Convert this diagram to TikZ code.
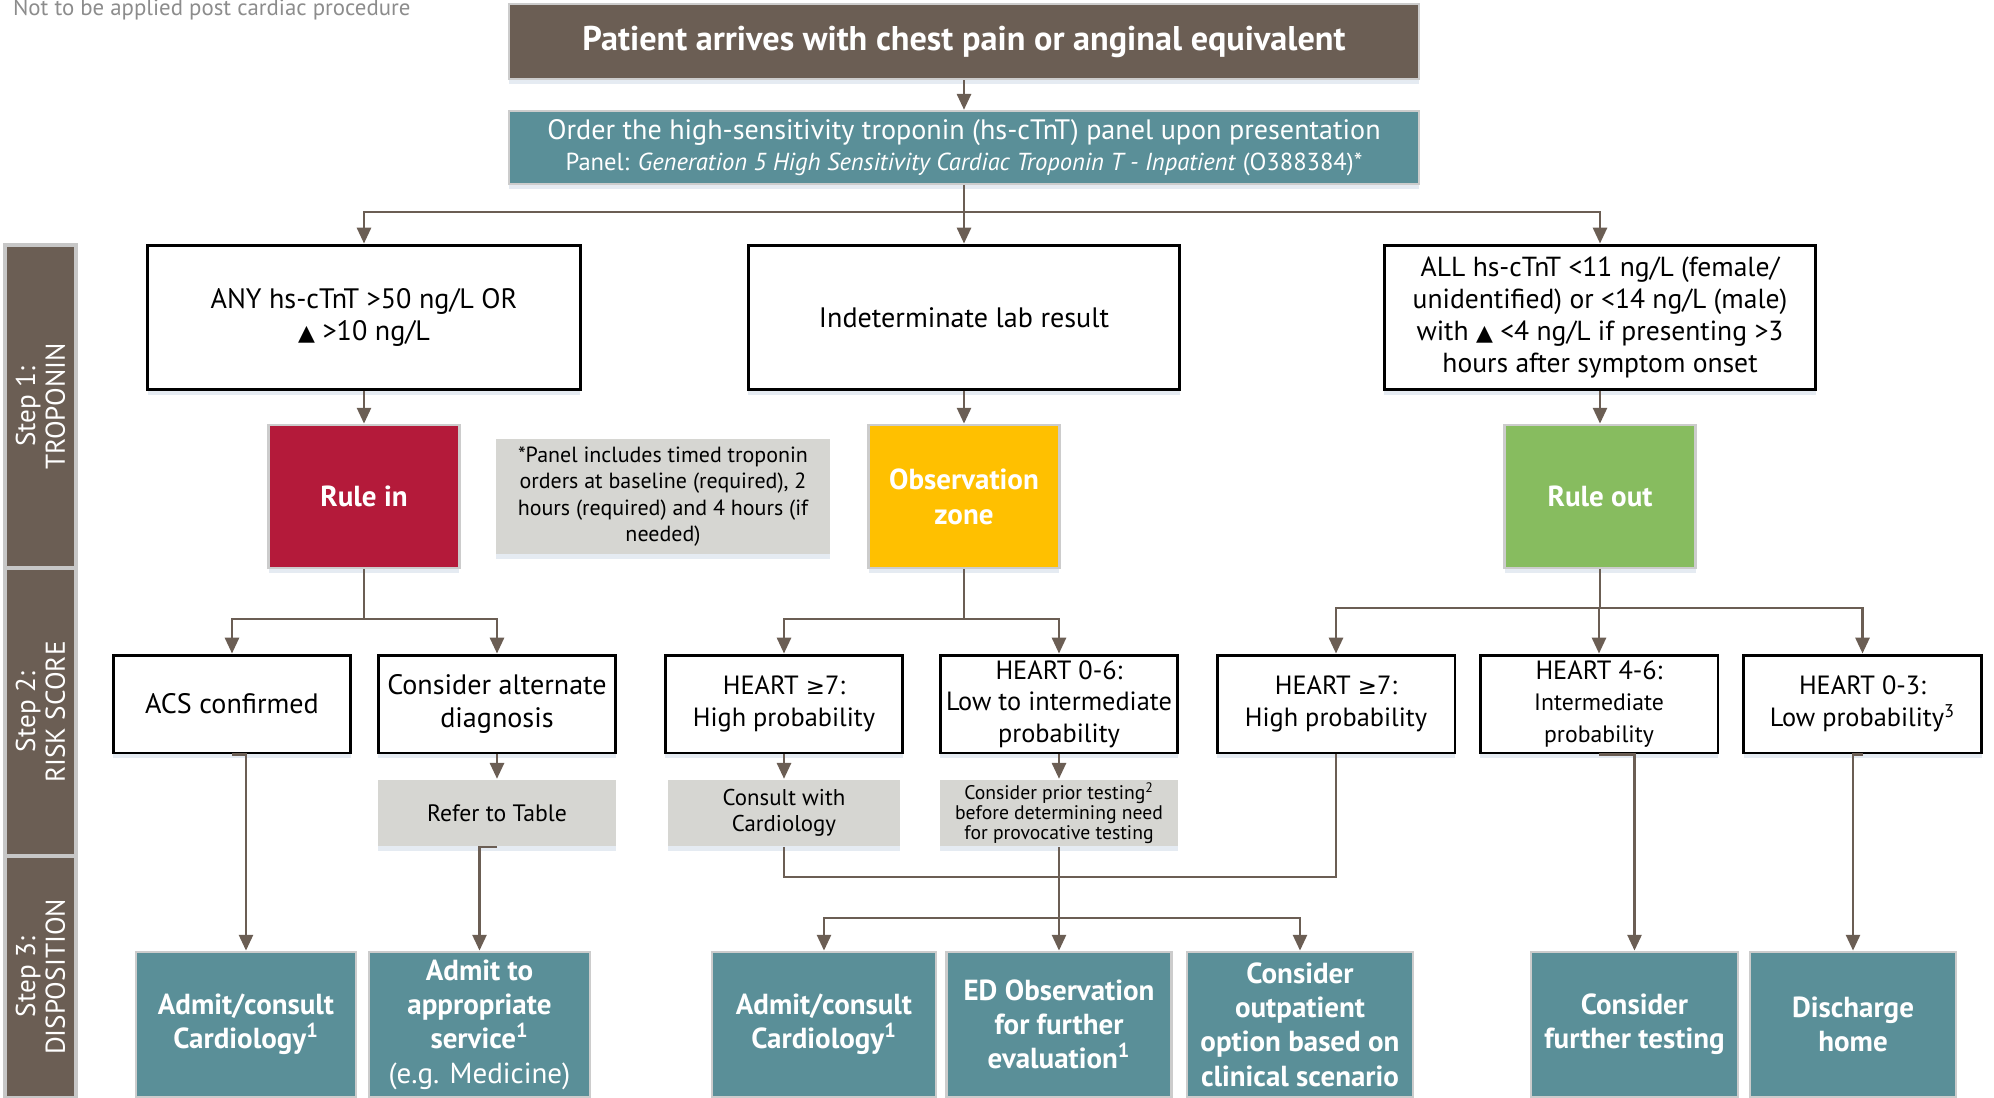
\documentclass[tikz,border=0pt]{standalone}
\usepackage{fontspec}
\setmainfont{PT Sans}
\newfontfamily\dejavu{DejaVu Sans}
\usetikzlibrary{arrows.meta}
\usetikzlibrary{shadows}
\definecolor{cbrown}{HTML}{6B5E54}
\definecolor{cteal}{HTML}{5A8F98}
\definecolor{cred}{HTML}{B41A3A}
\definecolor{cyellow}{HTML}{FFC000}
\definecolor{cgreen}{HTML}{87BC5F}
\definecolor{cgray}{HTML}{D6D6D2}
\definecolor{cshadow}{HTML}{D3DDEA}
\tikzset{every picture/.style={line width=1.4pt},
arr/.style={draw=cbrown,-{Triangle[width=8pt,length=9pt]}},
conn/.style={draw=cbrown},
shad/.style={drop shadow={shadow xshift=0pt,shadow yshift=-3pt,opacity=0.6,fill=cshadow}},
whitebox/.style={draw=black,line width=1.7pt,fill=white,shad,align=center,inner sep=1pt,minimum height=1.96cm,font=\fontsize{15}{18}\selectfont},
colbox/.style={draw=black!20,line width=1.6pt,shad,align=center,text=white,minimum width=3.82cm,minimum height=2.86cm,font=\fontsize{16.5}{20}\selectfont\bfseries},
notebox/.style={fill=cgray,shad,align=center,inner sep=1pt,minimum width=4.76cm,minimum height=1.32cm,font=\fontsize{13}{15}\selectfont},
endbox/.style={fill=cteal,draw=black!20,line width=1.6pt,shad,align=center,text=white,minimum height=2.9cm,inner sep=1pt,font=\fontsize{16.5}{19.5}\selectfont\bfseries},
stepbox/.style={fill=cbrown,draw=black!22,line width=2pt,minimum width=1.42cm,text=white,align=center},
steplabel/.style={text=white,rotate=90,align=center,font=\fontsize{15.5}{17}\selectfont}}
\newcommand{\tri}{{\dejavu\fontsize{12.5}{12}\selectfont ▲}}
\newcommand{\gte}{{\dejavu\fontsize{13}{13}\selectfont ≥}}

\begin{document}
\begin{tikzpicture}[x=0.02cm,y=-0.02cm]
\useasboundingbox (0,0) rectangle (1994,1098);
\node[anchor=base west,text=black!45,font=\fontsize{13}{13}\selectfont] (hdr) at (6,16) {Not to be applied post cardiac procedure};
% steps
\node[stepbox,minimum height=6.46cm] (s1) at (40.5,406.5) {};
\node[stepbox,minimum height=5.76cm] (s2) at (40.5,712) {};
\node[stepbox,minimum height=4.84cm] (s3) at (40.5,977) {};
\node[steplabel] at (s1) {Step 1:\\TROPONIN};
\node[steplabel] at (s2) {Step 2:\\RISK SCORE};
\node[steplabel] at (s3) {Step 3:\\DISPOSITION};
% top
\node[fill=cbrown,draw=black!20,shad,text=white,minimum width=18.2cm,minimum height=1.5cm,font=\fontsize{19.5}{22}\selectfont\bfseries] (start) at (964,41.5) {Patient arrives with chest pain or anginal equivalent};
\node[fill=cteal,draw=black!20,shad,text=white,align=center,minimum width=18.2cm,minimum height=1.46cm,inner sep=1pt] (panel) at (964,147.5) {{\fontsize{16}{18}\selectfont Order the high-sensitivity troponin (hs-cTnT) panel upon presentation}\\[3pt]{\fontsize{14}{15}\selectfont Panel: \textit{Generation 5 High Sensitivity Cardiac Troponin T - Inpatient} (O388384)*}};
% step 1
\node[whitebox,minimum width=8.66cm,minimum height=2.9cm,font=\fontsize{16}{18.5}\selectfont] (any) at (364,317.5) {ANY hs-cTnT >50 ng/L OR\\\tri\ >10 ng/L};
\node[whitebox,minimum width=8.64cm,minimum height=2.9cm,font=\fontsize{16}{18.5}\selectfont] (indet) at (964,317.5) {Indeterminate lab result};
\node[whitebox,minimum width=8.64cm,minimum height=2.9cm,font=\fontsize{15.7}{18.3}\selectfont] (allb) at (1600,317.5) {ALL hs-cTnT <11 ng/L (female/\\unidentified) or <14 ng/L (male)\\with \tri\ <4 ng/L if presenting >3\\hours after symptom onset};
\node[colbox,fill=cred] (rulein) at (364,496.5) {Rule in};
\node[colbox,fill=cyellow] (obs) at (964,496.5) {Observation\\zone};
\node[colbox,fill=cgreen] (ruleout) at (1600,496.5) {Rule out};
\node[notebox,minimum width=6.68cm,minimum height=2.3cm,font=\fontsize{12.5}{15}\selectfont] (note) at (663,496.5) {*Panel includes timed troponin\\orders at baseline (required), 2\\hours (required) and 4 hours (if\\needed)};
% step 2
\node[whitebox,minimum width=4.76cm,font=\fontsize{16}{18.5}\selectfont] (acs) at (232,704) {ACS confirmed};
\node[whitebox,minimum width=4.76cm,font=\fontsize{16}{18.5}\selectfont] (alt) at (497,704) {Consider alternate\\diagnosis};
\node[whitebox,minimum width=4.76cm] (hi1) at (784,704) {HEART \gte7:\\High probability};
\node[whitebox,minimum width=4.76cm] (mid) at (1059,704) {HEART 0-6:\\Low to intermediate\\probability};
\node[whitebox,minimum width=4.76cm] (hi2) at (1336,704) {HEART \gte7:\\High probability};
\node[whitebox,minimum width=4.76cm] (im) at (1599,704) {HEART 4-6:\\{\fontsize{13.5}{16}\selectfont Intermediate}\\{\fontsize{13.5}{16}\selectfont probability}};
\node[whitebox,minimum width=4.76cm] (lo) at (1862.5,704) {HEART 0-3:\\Low probability\textsuperscript{3}};
\node[notebox,font=\fontsize{13.5}{15}\selectfont] (ref) at (497,813) {Refer to Table};
\node[notebox,minimum width=4.64cm] (consult) at (784,813) {Consult with\\Cardiology};
\node[notebox,font=\fontsize{11.2}{11.5}\selectfont] (prior) at (1059,813) {Consider prior testing\textsuperscript{2}\\before determining need\\for provocative testing};
% step 3
\node[endbox,minimum width=4.4cm] (a1) at (246,1024.5) {Admit/consult\\Cardiology\textsuperscript{1}};
\node[endbox,minimum width=4.42cm] (a2) at (479.5,1024.5) {Admit to\\appropriate\\service\textsuperscript{1}\\{\mdseries (e.g. Medicine)}};
\node[endbox,minimum width=4.48cm] (a3) at (824,1024.5) {Admit/consult\\Cardiology\textsuperscript{1}};
\node[endbox,minimum width=4.5cm] (a4) at (1059,1024.5) {ED Observation\\for further\\evaluation\textsuperscript{1}};
\node[endbox,minimum width=4.52cm] (a5) at (1300,1024.5) {Consider\\outpatient\\option based on\\clinical scenario};
\node[endbox,minimum width=4.14cm] (a6) at (1634.5,1024.5) {Consider\\further testing};
\node[endbox,minimum width=4.12cm] (a7) at (1853,1024.5) {Discharge\\home};
% branch points
\coordinate (b0) at (964,212);
\coordinate (b1) at (364,619);
\coordinate (b2) at (964,619);
\coordinate (b3) at (1600,608);
\coordinate (b4) at (1336,877);
\coordinate (b5) at (1059,918);
% connectors
\draw[arr] (start) -- (panel);
\draw[conn] (panel) -- (b0);
\foreach \t in {any,indet,allb} \draw[arr] (b0) -| (\t.north);
\foreach \s/\t in {any/rulein,indet/obs,allb/ruleout,alt/ref,hi1/consult,mid/prior} \draw[arr] (\s) -- (\t);
\draw[conn] (rulein) -- (b1);
\draw[conn] (obs) -- (b2);
\draw[conn] (ruleout) -- (b3);
\foreach \t in {acs,alt} \draw[arr] (b1) -| (\t.north);
\foreach \t in {hi1,mid} \draw[arr] (b2) -| (\t.north);
\foreach \t in {hi2,im,lo} \draw[arr] (b3) -| (\t.north);
\draw[arr] (acs.south) -| (a1.north);
\draw[arr] (ref.south) -| (a2.north);
\draw[conn] (consult.south) |- (b4) -- (hi2.south);
\draw[conn] (prior.south) -- (b5);
\foreach \t in {a3,a4,a5} \draw[arr] (b5) -| (\t.north);
\draw[arr] (im.south) -| (a6.north);
\draw[arr] (lo.south) -| (a7.north);
\end{tikzpicture}
\end{document}
